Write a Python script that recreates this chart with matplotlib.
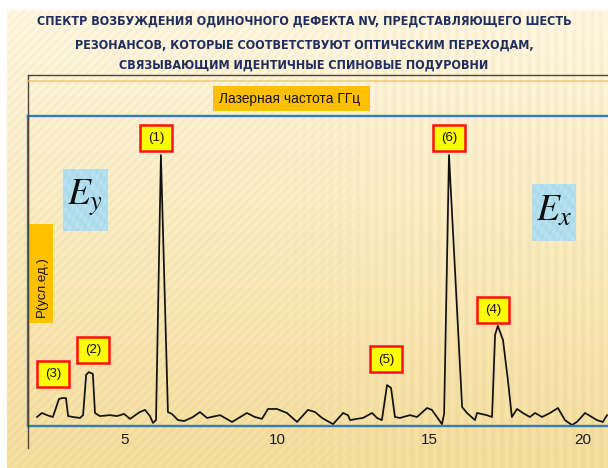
import numpy as np
import matplotlib
matplotlib.use('Agg')
import matplotlib.pyplot as plt
from matplotlib.patches import Rectangle

# ---------------- data ----------------
freq = [2.13, 2.29, 2.46, 2.65, 2.85, 2.95, 3.08, 3.15, 3.31, 3.54, 3.64, 3.74, 3.83, 3.96,
        4.03, 4.19, 4.52, 4.75, 4.98, 5.18, 5.50, 5.67, 5.83, 5.93, 6.03, 6.19, 6.42, 6.55,
        6.75, 6.95, 7.24, 7.47, 7.70, 8.13, 8.52, 9.01, 9.27, 9.50, 9.70, 9.99, 10.32, 10.65,
        11.01, 11.24, 11.47, 11.83, 12.16, 12.32, 12.39, 12.61, 12.81, 13.11, 13.27, 13.43,
        13.60, 13.73, 13.86, 14.02, 14.35, 14.58, 14.91, 15.07, 15.40, 15.47, 15.63, 16.06,
        16.22, 16.48, 16.55, 16.87, 17.04, 17.14, 17.23, 17.40, 17.56, 17.69, 17.86, 18.05,
        18.28, 18.45, 18.68, 18.94, 19.20, 19.43, 19.66, 19.82, 20.09, 20.48, 20.67, 20.81]
power = [0.029, 0.042, 0.035, 0.029, 0.087, 0.090, 0.090, 0.032, 0.029, 0.026, 0.035, 0.165,
         0.174, 0.168, 0.042, 0.032, 0.035, 0.032, 0.039, 0.023, 0.045, 0.052, 0.032, 0.010,
         0.019, 0.874, 0.045, 0.039, 0.019, 0.016, 0.029, 0.045, 0.026, 0.035, 0.013, 0.042,
         0.029, 0.023, 0.055, 0.055, 0.042, 0.013, 0.052, 0.045, 0.026, 0.006, 0.042, 0.035,
         0.019, 0.023, 0.026, 0.042, 0.026, 0.019, 0.132, 0.123, 0.029, 0.026, 0.035, 0.029,
         0.058, 0.052, 0.006, 0.039, 0.874, 0.061, 0.042, 0.019, 0.042, 0.035, 0.029, 0.294,
         0.323, 0.277, 0.148, 0.029, 0.055, 0.042, 0.029, 0.042, 0.029, 0.042, 0.058, 0.019,
         0.003, 0.013, 0.042, 0.019, 0.013, 0.035]
xticks = [5, 10, 15, 20]
xtick_labels = ['5', '10', '15', '20']
peak_labels = ['(1)', '(2)', '(3)', '(4)', '(5)', '(6)']
title_lines = ['СПЕКТР ВОЗБУЖДЕНИЯ ОДИНОЧНОГО ДЕФЕКТА NV, ПРЕДСТАВЛЯЮЩЕГО ШЕСТЬ',
               'РЕЗОНАНСОВ, КОТОРЫЕ СООТВЕТСТВУЮТ ОПТИЧЕСКИМ ПЕРЕХОДАМ,',
               'СВЯЗЫВАЮЩИМ ИДЕНТИЧНЫЕ СПИНОВЫЕ ПОДУРОВНИ']
x_label = 'Лазерная частота ГГц'
y_label = 'P(усл.ед.)'
field_labels = [r'$E_y$', r'$E_x$']

# ---------------- layout (pixels) ----------------
W, H = 608, 468
fig = plt.figure(figsize=(W / 100, H / 100), dpi=100)

bg = fig.add_axes([0, 0, 1, 1], zorder=0)
bg.set_xlim(0, W); bg.set_ylim(H, 0); bg.axis('off')
yy, xx = np.mgrid[0:H, 0:W]
t = np.clip((yy - 10) / 440.0, 0, 1)[..., None]
top_c = np.array([253, 245, 222]) / 255.0
bot_c = np.array([244, 221, 158]) / 255.0
img = top_c * (1 - t) + bot_c * t
diag = np.sin(2 * np.pi * (xx + yy) / 9.0)
vert = np.sin(2 * np.pi * xx / 9.0)
wgt = np.clip((xx - 250) / 150.0, 0, 1)
stripe = diag * (1 - wgt) + vert * wgt
img = img * (1 + 0.018 * stripe[..., None])
img[yy < 10] = 1.0
img[xx < 7] = 1.0
bg.imshow(np.clip(img, 0, 1), extent=(0, W, H, 0), aspect='auto', interpolation='bilinear')

# main chart axes
x0, x1 = 1.835, 20.84
ax = fig.add_axes([28 / W, (H - 426) / H, (W - 28) / W, (426 - 116) / H], zorder=2)
ax.patch.set_alpha(0)
ax.set_xlim(x0, x1)
ax.set_ylim(0, 1)
for s in ['left', 'top', 'bottom']:
    ax.spines[s].set_color('#2E7DBE')
    ax.spines[s].set_linewidth(1.7)
ax.spines['right'].set_visible(False)
ax.set_yticks([])
ax.set_xticks(xticks, xtick_labels)
ax.tick_params(axis='x', length=0, pad=5, labelsize=11, labelcolor='#1a1a1a')
for lab in ax.get_xticklabels():
    lab.set_family(['Liberation Sans', 'DejaVu Sans'])
ax.plot(freq, power, color='#111111', lw=1.25, solid_joinstyle='round')

# overlay axes in pixel coordinates
ov = fig.add_axes([0, 0, 1, 1], zorder=3)
ov.set_xlim(0, W); ov.set_ylim(H, 0); ov.axis('off'); ov.patch.set_alpha(0)

ov.plot([28, W], [75, 75], color='#4a4540', lw=1.0)
ov.plot([28, 28], [75, 448], color='#4a4540', lw=1.0)
ov.plot([28, W], [80.5, 80.5], color='#F2C468', lw=1.2, alpha=0.8)

# title
for ty, line in zip([21, 45, 65], title_lines):
    ov.text(304, ty, line, ha='center', va='center', fontsize=9.0, fontweight='bold',
            family='DejaVu Sans', fontstretch='condensed', color='#1F2D5E')

# x-label box
ov.add_patch(Rectangle((213, 86), 157, 25, facecolor='#FFC000', edgecolor='none'))
ov.text(219, 98.5, x_label, ha='left', va='center', fontsize=9.9,
        family=['Liberation Sans', 'DejaVu Sans'], color='#111111')

# y-label box
ov.add_patch(Rectangle((29, 224), 24, 99, facecolor='#FFC000', edgecolor='none'))
ov.text(41.5, 287, y_label, ha='center', va='center', rotation=90, fontsize=9.5,
        family=['Liberation Sans', 'DejaVu Sans'], color='#111111')

# E boxes
def ebox(x, y, w, h, label):
    gy, gx = np.mgrid[0:40, 0:40]
    pat = 0.5 + 0.5 * np.sin(gx * 0.9) * np.cos(gy * 0.7 + gx * 0.3)
    base = np.array([166, 216, 234]) / 255.0
    light = np.array([205, 236, 246]) / 255.0
    tex = base * (1 - pat[..., None] * 0.6) + light * (pat[..., None] * 0.6)
    ov.imshow(tex, extent=(x, x + w, y + h, y), aspect='auto', interpolation='bilinear', zorder=1)
    ov.text(x + w / 2, y + h / 2 - 2, label, ha='center', va='center', fontsize=27,
            math_fontfamily='stix', color='#0d0d0d', zorder=2)

ebox(63, 169, 45, 62, field_labels[0])
ebox(532, 184, 44, 57, field_labels[1])
ov.set_xlim(0, W); ov.set_ylim(H, 0)

# peak label boxes
box_xy = [(140, 125), (77, 337), (37, 361), (477, 297), (370, 346), (433, 125)]
for (bx, by), lab in zip(box_xy, peak_labels):
    ov.add_patch(Rectangle((bx, by), 32, 26, facecolor='#FFFF00', edgecolor='#FF1010', lw=1.8, zorder=4))
    ov.text(bx + 16, by + 13.5, lab, ha='center', va='center', fontsize=9.5,
            family=['Liberation Sans', 'DejaVu Sans'], color='#111111', zorder=5)

fig.savefig('out.png', dpi=100)
